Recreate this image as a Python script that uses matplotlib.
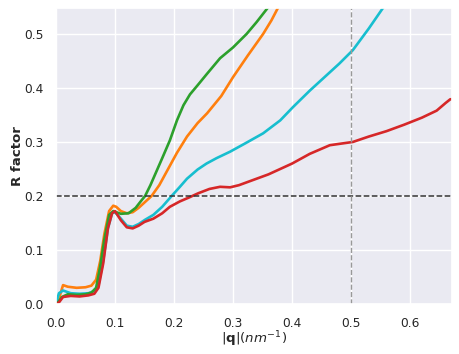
import matplotlib
matplotlib.use("Agg")
import matplotlib.pyplot as plt
import seaborn as sns

# curves
x_orange = [0.0, 0.005, 0.012, 0.02, 0.035, 0.05, 0.06, 0.068, 0.075, 0.082, 0.09, 0.097,
            0.102, 0.11, 0.12, 0.13, 0.14, 0.15, 0.162, 0.175, 0.19, 0.205, 0.222, 0.24,
            0.256, 0.28, 0.30, 0.325, 0.351, 0.365, 0.376, 0.39]
y_orange = [0.0, 0.01, 0.035, 0.032, 0.03, 0.031, 0.034, 0.045, 0.08, 0.13, 0.172, 0.182,
            0.18, 0.172, 0.168, 0.17, 0.178, 0.188, 0.2, 0.22, 0.25, 0.28, 0.31, 0.335,
            0.353, 0.385, 0.42, 0.46, 0.50, 0.525, 0.548, 0.575]

x_green = [0.0, 0.005, 0.01, 0.02, 0.035, 0.05, 0.06, 0.068, 0.075, 0.082, 0.09, 0.097,
           0.102, 0.11, 0.123, 0.135, 0.145, 0.151, 0.16, 0.17, 0.18, 0.193, 0.205, 0.216,
           0.227, 0.24, 0.255, 0.278, 0.30, 0.323, 0.34, 0.36, 0.375]
y_green = [0.0, 0.005, 0.013, 0.018, 0.017, 0.018, 0.021, 0.03, 0.07, 0.12, 0.165, 0.172,
           0.17, 0.167, 0.168, 0.178, 0.192, 0.2, 0.22, 0.245, 0.27, 0.303, 0.34, 0.368,
           0.388, 0.405, 0.425, 0.455, 0.475, 0.50, 0.522, 0.55, 0.575]

x_cyan = [0.0, 0.005, 0.012, 0.025, 0.04, 0.055, 0.065, 0.072, 0.08, 0.088, 0.095, 0.1,
          0.11, 0.12, 0.13, 0.14, 0.151, 0.165, 0.18, 0.196, 0.21, 0.222, 0.24, 0.255,
          0.272, 0.295, 0.32, 0.351, 0.38, 0.402, 0.43, 0.46, 0.48, 0.503, 0.53, 0.554, 0.57]
y_cyan = [0.0, 0.02, 0.025, 0.02, 0.019, 0.02, 0.024, 0.035, 0.08, 0.14, 0.168, 0.17,
          0.158, 0.145, 0.143, 0.148, 0.156, 0.165, 0.18, 0.2, 0.217, 0.232, 0.249, 0.26,
          0.27, 0.282, 0.297, 0.316, 0.34, 0.365, 0.395, 0.425, 0.445, 0.47, 0.51, 0.548, 0.57]

x_red = [0.0, 0.005, 0.012, 0.025, 0.04, 0.055, 0.065, 0.072, 0.08, 0.088, 0.095, 0.1,
         0.11, 0.12, 0.13, 0.14, 0.15, 0.165, 0.18, 0.193, 0.21, 0.225, 0.241, 0.26,
         0.278, 0.295, 0.31, 0.33, 0.36, 0.40, 0.43, 0.464, 0.503, 0.53, 0.56, 0.59,
         0.62, 0.645, 0.66, 0.668, 0.68]
y_red = [0.0, 0.003, 0.013, 0.015, 0.014, 0.016, 0.019, 0.03, 0.075, 0.14, 0.168, 0.172,
         0.155, 0.142, 0.14, 0.145, 0.152, 0.158, 0.168, 0.18, 0.19, 0.197, 0.205, 0.213,
         0.217, 0.216, 0.22, 0.228, 0.24, 0.26, 0.278, 0.294, 0.30, 0.31, 0.32, 0.332,
         0.345, 0.358, 0.372, 0.379, 0.38]

r_threshold = 0.2
q_cut = 0.5

sns.set_theme(style="darkgrid")
fig, ax = plt.subplots(figsize=(4.6, 3.54), dpi=100)
fig.subplots_adjust(left=0.1217, right=0.9826, top=0.9774, bottom=0.1412)

ax.plot(x_orange, y_orange, '-', color='tab:orange', lw=1.9)
ax.plot(x_cyan, y_cyan, '-', color='tab:cyan', lw=1.9)
ax.plot(x_green, y_green, '-', color='tab:green', lw=1.9)
ax.plot(x_red, y_red, '-', color='tab:red', lw=1.9)

ax.axhline(r_threshold, color='#333333', linestyle='--', lw=1.1)
ax.axvline(q_cut, color='#999999', linestyle='--', lw=1.0)

ax.set_xlim(0, 0.671)
ax.set_ylim(0, 0.548)
ax.tick_params(labelsize=8.8, pad=3)
ax.set_xlabel(r'$|\mathbf{q}|(nm^{-1})$', fontsize=9.6, labelpad=0)
ax.set_ylabel('R factor', fontsize=9.6, fontweight='bold', labelpad=0)

plt.savefig('out.png', dpi=100)
